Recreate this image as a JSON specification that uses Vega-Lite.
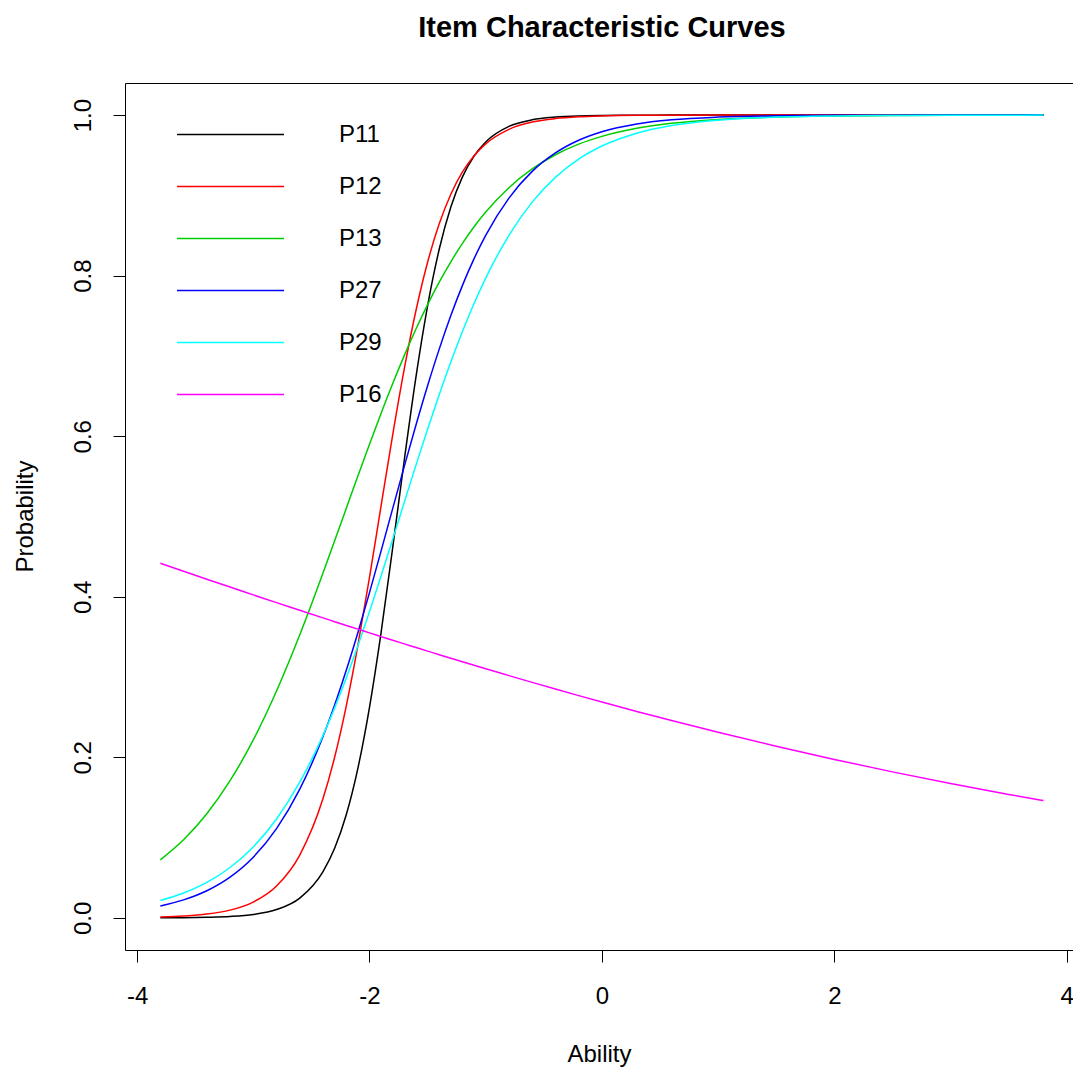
{
  "$schema": "https://vega.github.io/schema/vega-lite/v6.json",
  "width": 948,
  "height": 867,
  "autosize": {"type": "none"},
  "padding": {"left": 125, "top": 83, "right": 0, "bottom": 121},
  "background": "white",
  "config": {"view": {"stroke": null}, "font": "Liberation Sans"},
  "title": {"text": "Item Characteristic Curves", "fontSize": 29, "fontWeight": "bold", "font": "Liberation Sans", "color": "black", "anchor": "middle", "baseline": "alphabetic", "offset": 17, "dx": 3},
  "data": {"values": [
    {"x": -3.8, "P11": 0.0001, "P12": 0.0011, "P13": 0.0723, "P27": 0.0148, "P29": 0.0216, "P16": 0.4417},
    {"x": -3.6, "P11": 0.0003, "P12": 0.0023, "P13": 0.0973, "P27": 0.0224, "P29": 0.0310, "P16": 0.4318},
    {"x": -3.4, "P11": 0.0008, "P12": 0.0047, "P13": 0.1297, "P27": 0.0338, "P29": 0.0442, "P16": 0.4219},
    {"x": -3.2, "P11": 0.0018, "P12": 0.0097, "P13": 0.1709, "P27": 0.0508, "P29": 0.0628, "P16": 0.4121},
    {"x": -3.0, "P11": 0.0043, "P12": 0.0197, "P13": 0.2217, "P27": 0.0756, "P29": 0.0884, "P16": 0.4024},
    {"x": -2.8, "P11": 0.0104, "P12": 0.0397, "P13": 0.2826, "P27": 0.1111, "P29": 0.1232, "P16": 0.3927},
    {"x": -2.6, "P11": 0.0247, "P12": 0.0783, "P13": 0.3526, "P27": 0.1603, "P29": 0.1690, "P16": 0.3832},
    {"x": -2.4, "P11": 0.0577, "P12": 0.1486, "P13": 0.4296, "P27": 0.2259, "P29": 0.2274, "P16": 0.3737},
    {"x": -2.3, "P11": 0.0868, "P12": 0.2001, "P13": 0.4697, "P27": 0.2651, "P29": 0.2616, "P16": 0.3690},
    {"x": -2.2, "P11": 0.1285, "P12": 0.2639, "P13": 0.5101, "P27": 0.3084, "P29": 0.2988, "P16": 0.3643},
    {"x": -2.1, "P11": 0.1863, "P12": 0.3394, "P13": 0.5505, "P27": 0.3553, "P29": 0.3390, "P16": 0.3597},
    {"x": -2.0, "P11": 0.2623, "P12": 0.4241, "P13": 0.5901, "P27": 0.4052, "P29": 0.3815, "P16": 0.3550},
    {"x": -1.9, "P11": 0.3556, "P12": 0.5135, "P13": 0.6287, "P27": 0.4572, "P29": 0.4261, "P16": 0.3504},
    {"x": -1.8, "P11": 0.4616, "P12": 0.6020, "P13": 0.6657, "P27": 0.5101, "P29": 0.4718, "P16": 0.3458},
    {"x": -1.7, "P11": 0.5710, "P12": 0.6844, "P13": 0.7007, "P27": 0.5627, "P29": 0.5180, "P16": 0.3413},
    {"x": -1.6, "P11": 0.6740, "P12": 0.7566, "P13": 0.7335, "P27": 0.6140, "P29": 0.5640, "P16": 0.3368},
    {"x": -1.5, "P11": 0.7624, "P12": 0.8167, "P13": 0.7639, "P27": 0.6629, "P29": 0.6088, "P16": 0.3323},
    {"x": -1.4, "P11": 0.8329, "P12": 0.8646, "P13": 0.7919, "P27": 0.7085, "P29": 0.6518, "P16": 0.3279},
    {"x": -1.3, "P11": 0.8855, "P12": 0.9015, "P13": 0.8173, "P27": 0.7503, "P29": 0.6926, "P16": 0.3234},
    {"x": -1.2, "P11": 0.9231, "P12": 0.9292, "P13": 0.8403, "P27": 0.7879, "P29": 0.7305, "P16": 0.3190},
    {"x": -1.1, "P11": 0.9491, "P12": 0.9495, "P13": 0.8609, "P27": 0.8212, "P29": 0.7653, "P16": 0.3147},
    {"x": -1.0, "P11": 0.9666, "P12": 0.9642, "P13": 0.8792, "P27": 0.8502, "P29": 0.7969, "P16": 0.3103},
    {"x": -0.8, "P11": 0.9859, "P12": 0.9823, "P13": 0.9096, "P27": 0.8966, "P29": 0.8503, "P16": 0.3018},
    {"x": -0.6, "P11": 0.9941, "P12": 0.9913, "P13": 0.9329, "P27": 0.9299, "P29": 0.8916, "P16": 0.2934},
    {"x": -0.4, "P11": 0.9975, "P12": 0.9957, "P13": 0.9506, "P27": 0.9529, "P29": 0.9225, "P16": 0.2851},
    {"x": -0.2, "P11": 0.9990, "P12": 0.9979, "P13": 0.9638, "P27": 0.9687, "P29": 0.9452, "P16": 0.2769},
    {"x": 0.0, "P11": 0.9996, "P12": 0.9990, "P13": 0.9735, "P27": 0.9793, "P29": 0.9615, "P16": 0.2689},
    {"x": 0.3, "P11": 0.9999, "P12": 0.9997, "P13": 0.9835, "P27": 0.9889, "P29": 0.9775, "P16": 0.2572},
    {"x": 0.6, "P11": 1.0, "P12": 0.9999, "P13": 0.9898, "P27": 0.9941, "P29": 0.9870, "P16": 0.2459},
    {"x": 1.0, "P11": 1.0, "P12": 1.0, "P13": 0.9946, "P27": 0.9975, "P29": 0.9937, "P16": 0.2312},
    {"x": 1.5, "P11": 1.0, "P12": 1.0, "P13": 0.9976, "P27": 0.9991, "P29": 0.9975, "P16": 0.2138},
    {"x": 2.0, "P11": 1.0, "P12": 1.0, "P13": 0.9989, "P27": 0.9997, "P29": 0.9990, "P16": 0.1974},
    {"x": 2.5, "P11": 1.0, "P12": 1.0, "P13": 0.9995, "P27": 0.9999, "P29": 0.9996, "P16": 0.1819},
    {"x": 3.0, "P11": 1.0, "P12": 1.0, "P13": 0.9998, "P27": 1.0, "P29": 0.9998, "P16": 0.1674},
    {"x": 3.5, "P11": 1.0, "P12": 1.0, "P13": 0.9999, "P27": 1.0, "P29": 0.9999, "P16": 0.1538},
    {"x": 3.8, "P11": 1.0, "P12": 1.0, "P13": 1.0, "P27": 1.0, "P29": 1.0, "P16": 0.1461}
  ]},
  "transform": [{"fold": ["P11", "P12", "P13", "P27", "P29", "P16"], "as": ["item", "p"]}],
  "layer": [
    {
      "mark": {"type": "line", "interpolate": "monotone", "strokeWidth": 1.5},
      "encoding": {
        "x": {"field": "x", "type": "quantitative",
          "scale": {"domain": [-4.104, 4.054], "nice": false, "zero": false},
          "axis": {"orient": "bottom", "values": [-4, -2, 0, 2, 4], "format": "d", "labelExpr": "replace(datum.label, '\u2212', '-')",
            "grid": false, "domain": true, "domainColor": "black", "domainWidth": 1, "ticks": true, "tickSize": 12, "tickColor": "black", "tickWidth": 1,
            "labelFontSize": 24, "labelColor": "black", "labelPadding": 22, "labelFlush": false,
            "title": "Ability", "titleFontSize": 24, "titleFontWeight": "normal", "titleColor": "black", "titleBaseline": "alphabetic", "titleY": 111}},
        "y": {"field": "p", "type": "quantitative",
          "scale": {"domain": [-0.04, 1.04], "nice": false, "zero": false},
          "axis": {"orient": "left", "values": [0, 0.2, 0.4, 0.6, 0.8, 1], "format": ".1f",
            "grid": false, "domain": true, "domainColor": "black", "domainWidth": 1, "ticks": true, "tickSize": 12, "tickColor": "black", "tickWidth": 1,
            "labelFontSize": 24, "labelColor": "black", "labelAngle": 270, "labelAlign": "center", "labelBaseline": "alphabetic", "labelPadding": 23, "labelFlush": false,
            "title": "Probability", "titleFontSize": 24, "titleFontWeight": "normal", "titleColor": "black", "titleAngle": 270, "titleAlign": "center", "titleBaseline": "middle", "titleX": -100, "titleY": 433}},
        "color": {"field": "item", "type": "nominal",
          "scale": {"domain": ["P11", "P12", "P13", "P27", "P29", "P16"], "range": ["#000000", "#FF0000", "#00CD00", "#0000FF", "#00FFFF", "#FF00FF"]},
          "legend": {"orient": "none", "legendX": 52, "legendY": 28, "title": null, "padding": 0,
            "symbolType": "M-2.378,0H2.378", "symbolSize": 2025, "symbolStrokeWidth": 1.6, "symbolOffset": 30,
            "labelFontSize": 24, "labelFont": "Liberation Sans", "labelColor": "black", "labelOffset": 85, "rowPadding": 16}}
      }
    },
    {
      "mark": {"type": "point", "opacity": 0},
      "encoding": {
        "x": {"field": "x", "type": "quantitative",
          "axis": {"orient": "top", "labels": false, "ticks": false, "domain": true, "domainColor": "black", "domainWidth": 1, "grid": false, "title": null}}
      }
    }
  ],
  "resolve": {"axis": {"x": "independent"}}
}
